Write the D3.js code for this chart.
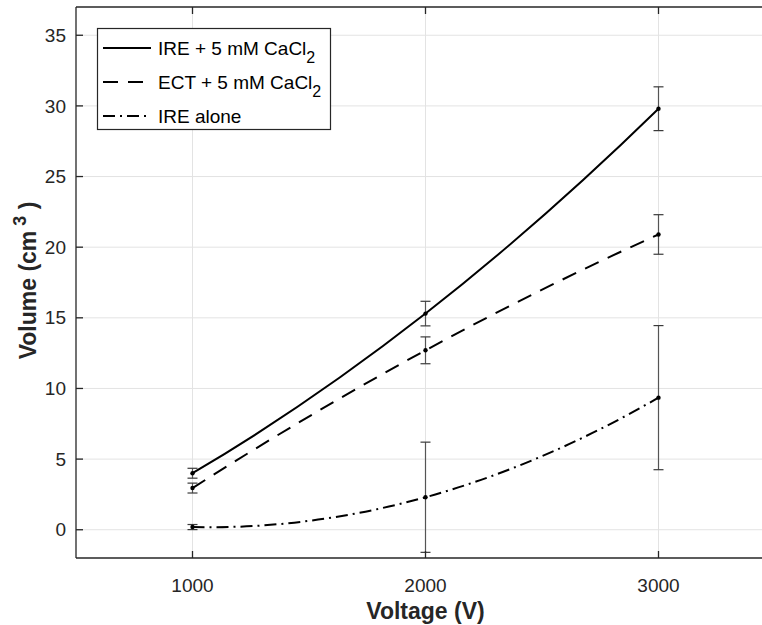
<!DOCTYPE html>
<html><head><meta charset="utf-8">
<script src="https://cdn.jsdelivr.net/npm/d3@7"></script>
<style>body{margin:0;background:#fff}</style>
</head><body>
<svg id="c" width="762" height="625"></svg>
<script>
// ---- data ----
const voltages = [1000, 2000, 3000];
const ireCa = [4.0, 15.3, 29.8];
const ireCaErr = [0.35, 0.87, 1.55];
const ectCa = [2.95, 12.7, 20.9];
const ectCaErr = [0.35, 0.95, 1.4];
const ireAlone = [0.19, 2.3, 9.35];
const ireAloneErr = [0.18, 3.9, 5.1];
const xTicks = [1000, 2000, 3000];
const yTicks = [0, 5, 10, 15, 20, 25, 30, 35];
const seriesNames = ["IRE + 5 mM CaCl", "ECT + 5 mM CaCl", "IRE alone"];
const seriesSub = ["2", "2", ""];

const series = [
  {name: seriesNames[0], sub: seriesSub[0], vals: ireCa, err: ireCaErr, dash: null},
  {name: seriesNames[1], sub: seriesSub[1], vals: ectCa, err: ectCaErr, dash: "15,10"},
  {name: seriesNames[2], sub: seriesSub[2], vals: ireAlone, err: ireAloneErr, dash: "12,5,2,5"}
];

const FONT = "'Liberation Sans', Arial, Helvetica, sans-serif";
const INK = "#262626";
const svg = d3.select("#c");
const L = 76, T = 7, R = 775, B = 558;
const x = d3.scaleLinear().domain([500, 3500]).range([L, R]);
const y = d3.scaleLinear().domain([-2, 37]).range([B, T]);

// parabola through 3 points (like MATLAB spline on 3 points)
function curveParabola(context) {
  let pts = [];
  return {
    areaStart() {}, areaEnd() {},
    lineStart() { pts = []; },
    point(px, py) { pts.push([+px, +py]); },
    lineEnd() {
      if (!pts.length) return;
      context.moveTo(pts[0][0], pts[0][1]);
      if (pts.length !== 3) { pts.slice(1).forEach(p => context.lineTo(p[0], p[1])); return; }
      const [[x0,y0],[x1,y1],[x2,y2]] = pts;
      const d01 = (y1-y0)/(x1-x0), d12 = (y2-y1)/(x2-x1), c = (d12-d01)/(x2-x0);
      const fp = xx => d01 + c*(2*xx - x0 - x1);
      const seg = (xa, ya, xb, yb) => {
        const h = xb - xa;
        context.quadraticCurveTo(xa + h/2, ya + fp(xa)*h/2, xb, yb);
      };
      seg(x0,y0,x1,y1); seg(x1,y1,x2,y2);
    }
  };
}

// grid
const g = svg.append("g");
g.selectAll("line.gx").data(xTicks).join("line")
  .attr("x1", d => x(d)).attr("x2", d => x(d)).attr("y1", T).attr("y2", B)
  .attr("stroke", "#e3e3e3").attr("stroke-width", 1);
g.selectAll("line.gy").data(yTicks).join("line")
  .attr("y1", d => y(d)).attr("y2", d => y(d)).attr("x1", L).attr("x2", R)
  .attr("stroke", "#e3e3e3").attr("stroke-width", 1);

// error bars
const capW = 5;
series.forEach(s => {
  const eg = svg.append("g").attr("stroke", "#3a3a3a").attr("stroke-width", 1.2);
  voltages.forEach((v, i) => {
    const cx = x(v), top = y(s.vals[i] + s.err[i]), bot = y(s.vals[i] - s.err[i]);
    eg.append("line").attr("x1", cx).attr("x2", cx).attr("y1", top).attr("y2", bot).attr("stroke", "#555");
    eg.append("line").attr("x1", cx - capW).attr("x2", cx + capW).attr("y1", top).attr("y2", top);
    eg.append("line").attr("x1", cx - capW).attr("x2", cx + capW).attr("y1", bot).attr("y2", bot);
  });
});

// lines
const line = d3.line().x(d => x(d[0])).y(d => y(d[1])).curve(curveParabola);
series.forEach(s => {
  svg.append("path").datum(voltages.map((v, i) => [v, s.vals[i]]))
    .attr("d", line).attr("fill", "none").attr("stroke", "#000")
    .attr("stroke-width", 2).attr("stroke-dasharray", s.dash);
  svg.append("g").selectAll("circle").data(voltages.map((v, i) => [v, s.vals[i]])).join("circle")
    .attr("cx", d => x(d[0])).attr("cy", d => y(d[1])).attr("r", 2.2).attr("fill", "#000");
});

// axes box
const ax = svg.append("g").attr("stroke", INK).attr("stroke-width", 1.3);
ax.append("line").attr("x1", L).attr("x2", L).attr("y1", T).attr("y2", B);
ax.append("line").attr("x1", L).attr("x2", R).attr("y1", B).attr("y2", B);
ax.append("line").attr("x1", L).attr("x2", R).attr("y1", T).attr("y2", T);
ax.append("line").attr("x1", R).attr("x2", R).attr("y1", T).attr("y2", B);
const tl = 7;
xTicks.forEach(t => {
  ax.append("line").attr("x1", x(t)).attr("x2", x(t)).attr("y1", B).attr("y2", B - tl);
  ax.append("line").attr("x1", x(t)).attr("x2", x(t)).attr("y1", T).attr("y2", T + tl);
});
yTicks.forEach(t => {
  ax.append("line").attr("y1", y(t)).attr("y2", y(t)).attr("x1", L).attr("x2", L + tl);
  ax.append("line").attr("y1", y(t)).attr("y2", y(t)).attr("x1", R).attr("x2", R - tl);
});

// tick labels
svg.append("g").selectAll("text").data(xTicks).join("text")
  .attr("x", d => x(d)).attr("y", B + 34).attr("text-anchor", "middle")
  .attr("font-family", FONT).attr("font-size", 19).attr("fill", INK).text(d => d);
svg.append("g").selectAll("text").data(yTicks).join("text")
  .attr("x", L - 10).attr("y", d => y(d)).attr("dy", "0.35em").attr("text-anchor", "end")
  .attr("font-family", FONT).attr("font-size", 19).attr("fill", INK).text(d => d);

// axis titles
svg.append("text").attr("x", (L + R) / 2).attr("y", B + 61).attr("text-anchor", "middle")
  .attr("font-family", FONT).attr("font-size", 23).attr("font-weight", "bold").attr("fill", INK)
  .text("Voltage (V)");
const yt = svg.append("text").attr("transform", `translate(36,${(T + B) / 2 - 2}) rotate(-90)`)
  .attr("text-anchor", "middle").attr("font-family", FONT).attr("font-size", 23)
  .attr("font-weight", "bold").attr("fill", INK);
yt.append("tspan").text("Volume (cm");
yt.append("tspan").attr("dy", -10).attr("font-size", 18).text(" 3");
yt.append("tspan").attr("dy", 10).text(" )");

// legend
const lg = svg.append("g");
lg.append("rect").attr("x", 97.5).attr("y", 28.5).attr("width", 233).attr("height", 101)
  .attr("fill", "#fff").attr("stroke", INK).attr("stroke-width", 1.2);
const rowY = [48, 82, 116];
series.forEach((s, i) => {
  lg.append("line").attr("x1", 103).attr("x2", 151).attr("y1", rowY[i]).attr("y2", rowY[i])
    .attr("stroke", "#000").attr("stroke-width", 2).attr("stroke-dasharray", s.dash);
  const t = lg.append("text").attr("x", 158).attr("y", rowY[i]).attr("dy", "0.36em")
    .attr("font-family", FONT).attr("font-size", 19).attr("fill", "#000");
  t.append("tspan").text(s.name);
  if (s.sub) t.append("tspan").attr("dy", 8).attr("font-size", 16).text(s.sub);
});
</script>
</body></html>
